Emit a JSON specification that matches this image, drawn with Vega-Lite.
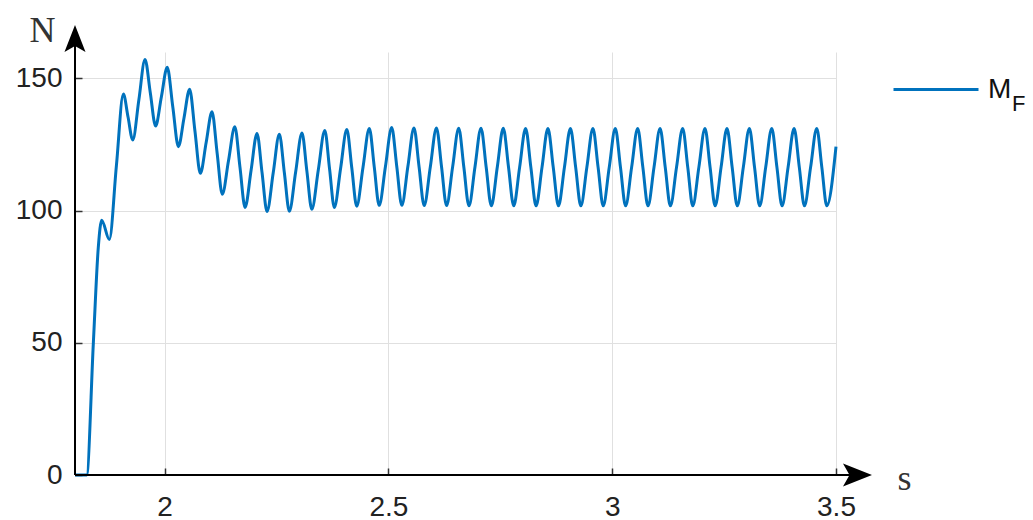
{
  "$schema": "https://vega.github.io/schema/vega-lite/v6.json",
  "width": 761,
  "height": 423,
  "autosize": {"type": "none"},
  "padding": {"left": 75, "top": 52, "right": 197, "bottom": 45},
  "background": "white",
  "config": {"view": {"stroke": null}, "font": "Liberation Sans"},
  "datasets": {
    "curve": [
      {"t": 1.8, "v": 0}, {"t": 1.826, "v": 0}, {"t": 1.841, "v": 50}, {"t": 1.852, "v": 86},
      {"t": 1.8597, "v": 96.4}, {"t": 1.8767, "v": 89.1}, {"t": 1.8925, "v": 117}, {"t": 1.908, "v": 144.1},
      {"t": 1.9185, "v": 135.4}, {"t": 1.929, "v": 126.7}, {"t": 1.9427, "v": 141.95}, {"t": 1.9564, "v": 157.2},
      {"t": 1.9682, "v": 144.6}, {"t": 1.98, "v": 132.0}, {"t": 1.993, "v": 143.1}, {"t": 2.006, "v": 154.2},
      {"t": 2.0185, "v": 139.2}, {"t": 2.031, "v": 124.2}, {"t": 2.0435, "v": 135.05}, {"t": 2.056, "v": 145.9},
      {"t": 2.068, "v": 130.0}, {"t": 2.08, "v": 114.1}, {"t": 2.093, "v": 125.75}, {"t": 2.106, "v": 137.4},
      {"t": 2.1175, "v": 121.8}, {"t": 2.129, "v": 106.2}, {"t": 2.143, "v": 118.95}, {"t": 2.157, "v": 131.7},
      {"t": 2.1685, "v": 116.45}, {"t": 2.18, "v": 101.2}, {"t": 2.1933, "v": 115.2}, {"t": 2.2066, "v": 129.2},
      {"t": 2.2178, "v": 114.45}, {"t": 2.229, "v": 99.7}, {"t": 2.2428, "v": 114.3}, {"t": 2.2565, "v": 128.9},
      {"t": 2.2677, "v": 114.35}, {"t": 2.2788, "v": 99.8}, {"t": 2.2929, "v": 114.6}, {"t": 2.307, "v": 129.4},
      {"t": 2.318, "v": 114.95}, {"t": 2.329, "v": 100.5}, {"t": 2.3435, "v": 115.4}, {"t": 2.358, "v": 130.3},
      {"t": 2.3687, "v": 115.75}, {"t": 2.3793, "v": 101.2}, {"t": 2.3933, "v": 115.95}, {"t": 2.4072, "v": 130.7},
      {"t": 2.4183, "v": 116.2}, {"t": 2.4293, "v": 101.7}, {"t": 2.4434, "v": 116.4}, {"t": 2.4575, "v": 131.1},
      {"t": 2.4685, "v": 116.55}, {"t": 2.4795, "v": 102.0}, {"t": 2.4935, "v": 116.7}, {"t": 2.5075, "v": 131.4},
      {"t": 2.5188, "v": 116.7}, {"t": 2.53, "v": 102.0}, {"t": 2.5436, "v": 116.65}, {"t": 2.5572, "v": 131.3},
      {"t": 2.5686, "v": 116.6}, {"t": 2.58, "v": 101.9}, {"t": 2.5938, "v": 116.6}, {"t": 2.6075, "v": 131.3},
      {"t": 2.6188, "v": 116.6}, {"t": 2.63, "v": 101.9}, {"t": 2.6436, "v": 116.55}, {"t": 2.6572, "v": 131.2},
      {"t": 2.6686, "v": 116.5}, {"t": 2.68, "v": 101.8}, {"t": 2.6935, "v": 116.5}, {"t": 2.707, "v": 131.2},
      {"t": 2.7185, "v": 116.5}, {"t": 2.73, "v": 101.8}, {"t": 2.7434, "v": 116.5}, {"t": 2.7568, "v": 131.2},
      {"t": 2.7684, "v": 116.5}, {"t": 2.78, "v": 101.8}, {"t": 2.7933, "v": 116.45}, {"t": 2.8066, "v": 131.1},
      {"t": 2.8183, "v": 116.45}, {"t": 2.83, "v": 101.8}, {"t": 2.8433, "v": 116.45}, {"t": 2.8565, "v": 131.1},
      {"t": 2.8683, "v": 116.45}, {"t": 2.88, "v": 101.8}, {"t": 2.8934, "v": 116.45}, {"t": 2.9068, "v": 131.1},
      {"t": 2.9184, "v": 116.45}, {"t": 2.93, "v": 101.8}, {"t": 2.9435, "v": 116.45}, {"t": 2.957, "v": 131.1},
      {"t": 2.9685, "v": 116.45}, {"t": 2.98, "v": 101.8}, {"t": 2.9935, "v": 116.45}, {"t": 3.007, "v": 131.1},
      {"t": 3.0185, "v": 116.45}, {"t": 3.03, "v": 101.8}, {"t": 3.0435, "v": 116.45}, {"t": 3.057, "v": 131.1},
      {"t": 3.0685, "v": 116.45}, {"t": 3.08, "v": 101.8}, {"t": 3.0935, "v": 116.45}, {"t": 3.107, "v": 131.1},
      {"t": 3.1185, "v": 116.45}, {"t": 3.13, "v": 101.8}, {"t": 3.1438, "v": 116.45}, {"t": 3.1575, "v": 131.1},
      {"t": 3.1688, "v": 116.45}, {"t": 3.18, "v": 101.8}, {"t": 3.1937, "v": 116.45}, {"t": 3.2073, "v": 131.1},
      {"t": 3.2187, "v": 116.45}, {"t": 3.23, "v": 101.8}, {"t": 3.2433, "v": 116.45}, {"t": 3.2565, "v": 131.1},
      {"t": 3.268, "v": 116.45}, {"t": 3.2795, "v": 101.8}, {"t": 3.293, "v": 116.45}, {"t": 3.3065, "v": 131.1},
      {"t": 3.318, "v": 116.45}, {"t": 3.3295, "v": 101.8}, {"t": 3.343, "v": 116.45}, {"t": 3.3565, "v": 131.1},
      {"t": 3.368, "v": 116.45}, {"t": 3.3795, "v": 101.8}, {"t": 3.393, "v": 116.45}, {"t": 3.4064, "v": 131.1},
      {"t": 3.418, "v": 116.45}, {"t": 3.4295, "v": 101.8}, {"t": 3.4433, "v": 116.45}, {"t": 3.457, "v": 131.1},
      {"t": 3.4683, "v": 116.45}, {"t": 3.4795, "v": 101.8}, {"t": 3.5, "v": 124.2}
    ],
    "axislines": [
      {"t": 1.8, "v": 0, "t2": 3.545, "v2": 0},
      {"t": 1.8, "v": 0, "t2": 1.8, "v2": 163}
    ],
    "headx": [{"t": 3.548, "v": 0}],
    "heady": [{"t": 1.8, "v": 165.1}],
    "sub": [{"t": 3.893, "v": 140.5, "label": "F"}]
  },
  "layer": [
    {
      "data": {"name": "curve"},
      "mark": {"type": "line", "interpolate": "monotone", "strokeWidth": 3, "clip": false},
      "encoding": {
        "x": {
          "field": "t", "type": "quantitative",
          "scale": {"domain": [1.8, 3.5], "nice": false, "zero": false},
          "axis": {
            "values": [2, 2.5, 3, 3.5], "format": "~g", "grid": true, "gridColor": "#e0e0e0", "gridWidth": 1,
            "domain": false, "tickSize": -7, "tickColor": "#333333", "tickWidth": 1.5,
            "labelFontSize": 28, "labelColor": "#222222", "labelPadding": 25, "labelFlush": false,
            "title": "s", "titleFont": "Liberation Serif", "titleFontSize": 36, "titleFontWeight": "normal",
            "titleColor": "#333333", "titleX": 829, "titleY": 3, "titleBaseline": "middle", "titleAlign": "center"
          }
        },
        "y": {
          "field": "v", "type": "quantitative",
          "scale": {"domain": [0, 160], "nice": false},
          "axis": {
            "values": [0, 50, 100, 150], "grid": true, "gridColor": "#e0e0e0", "gridWidth": 1,
            "domain": false, "tickSize": -7, "tickColor": "#333333", "tickWidth": 1.5,
            "labelFontSize": 28, "labelColor": "#222222", "labelPadding": 20,
            "title": "N", "titleFont": "Liberation Serif", "titleFontSize": 36, "titleFontWeight": "normal",
            "titleColor": "#333333", "titleAngle": 0, "titleX": -33, "titleY": -22, "titleBaseline": "middle", "titleAlign": "center"
          }
        },
        "color": {
          "datum": "M", "type": "nominal",
          "scale": {"domain": ["M"], "range": ["#0072BD"]},
          "legend": {
            "orient": "none", "legendX": 817, "legendY": -6.5, "title": null, "padding": 0,
            "symbolType": "stroke", "symbolSize": 7225, "symbolStrokeWidth": 3,
            "labelFontSize": 28, "labelColor": "#111111", "labelOffset": 8, "labelBaseline": "middle"
          }
        }
      }
    },
    {
      "data": {"name": "axislines"},
      "mark": {"type": "rule", "color": "black", "strokeWidth": 2, "clip": false},
      "encoding": {
        "x": {"field": "t", "type": "quantitative"},
        "x2": {"field": "t2"},
        "y": {"field": "v", "type": "quantitative"},
        "y2": {"field": "v2"}
      }
    },
    {
      "data": {"name": "headx"},
      "mark": {"type": "point", "shape": "M1,0L-1,-0.8L-0.55,0L-1,0.8Z", "size": 841, "filled": true, "color": "black", "opacity": 1, "clip": false},
      "encoding": {
        "x": {"field": "t", "type": "quantitative"},
        "y": {"field": "v", "type": "quantitative"}
      }
    },
    {
      "data": {"name": "heady"},
      "mark": {"type": "point", "shape": "M0,-1L0.78,1L0,0.55L-0.78,1Z", "size": 729, "filled": true, "color": "black", "opacity": 1, "clip": false},
      "encoding": {
        "x": {"field": "t", "type": "quantitative"},
        "y": {"field": "v", "type": "quantitative"}
      }
    },
    {
      "data": {"name": "sub"},
      "mark": {"type": "text", "fontSize": 22, "font": "Liberation Sans", "align": "left", "baseline": "middle", "color": "#111111", "clip": false},
      "encoding": {
        "x": {"field": "t", "type": "quantitative"},
        "y": {"field": "v", "type": "quantitative"},
        "text": {"field": "label"}
      }
    }
  ]
}
